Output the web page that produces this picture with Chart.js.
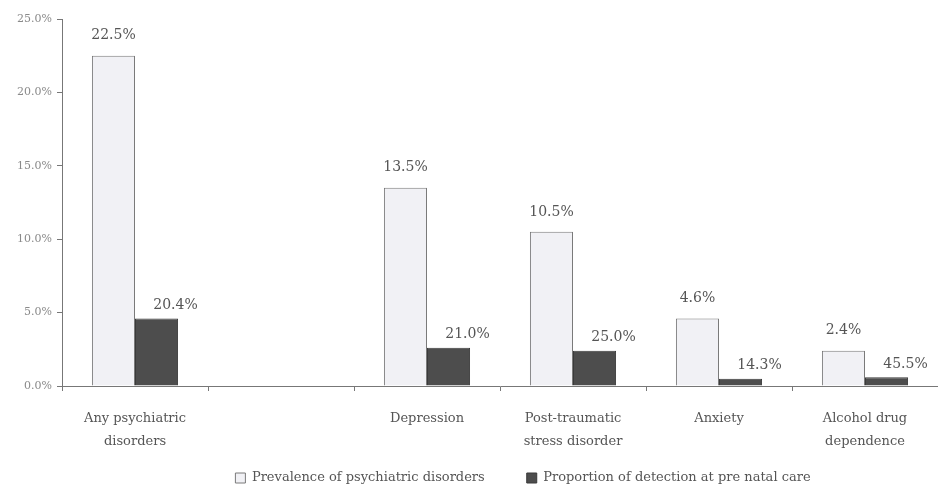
<!DOCTYPE html>
<html>
<head>
<meta charset="utf-8">
<script src="https://cdn.jsdelivr.net/npm/chart.js@4/dist/chart.umd.min.js"></script>
<style>
  html, body { margin: 0; padding: 0; background: #fff; }
  #wrap { width: 938px; height: 488px; }
</style>
</head>
<body>
<div id="wrap"><canvas id="c" width="938" height="488"></canvas></div>
<script>
// Categories (an empty slot separates the overall figure from the specific disorders)
const categories = [
  ['Any psychiatric', 'disorders'],
  '',
  'Depression',
  ['Post-traumatic', 'stress disorder'],
  'Anxiety',
  ['Alcohol drug', 'dependence']
];

// Prevalence of each disorder (% of women)
const prevalence = [22.5, null, 13.5, 10.5, 4.6, 2.4];

// Cases detected at prenatal care, as % of all women
const detected = [4.6, null, 2.6, 2.4, 0.5, 0.6];

// Proportion of cases detected at prenatal care (labels on the dark bars)
const detectionLabels = ['20.4%', null, '21.0%', '25.0%', '14.3%', '45.5%'];

// Labels on the light bars
const prevalenceLabels = ['22.5%', null, '13.5%', '10.5%', '4.6%', '2.4%'];

const yTicks = [0, 5, 10, 15, 20, 25];

const SERIF = '"DejaVu Serif", "Liberation Serif", serif';
const PLOT_BOTTOM = 386;   // y of the zero line
const LEGEND_H = 20;       // height reserved for the legend row
const LEGEND_Y = 478;      // centre line of the legend row
const LEGEND_GAP = 42;     // space between the two legend entries
const LEGEND_CENTER = 523; // horizontal centre of the legend row

// Writes the value labels above the bars
const barLabels = {
  id: 'barLabels',
  afterDatasetsDraw(chart) {
    const ctx = chart.ctx;
    ctx.save();
    ctx.font = '14px ' + SERIF;
    ctx.fillStyle = '#555';
    ctx.textAlign = 'center';
    ctx.textBaseline = 'middle';
    const sets = [
      { idx: 0, texts: prevalenceLabels, dx: 0, dy: 20 },
      { idx: 1, texts: detectionLabels, dx: 19, dy: 13 }
    ];
    sets.forEach(s => {
      const meta = chart.getDatasetMeta(s.idx);
      meta.data.forEach((el, i) => {
        const t = s.texts[i];
        if (!t) return;
        ctx.fillText(t, el.x + s.dx, el.y - s.dy);
      });
    });
    ctx.restore();
  }
};

// Keeps the legend row compact even with wide spacing between its entries,
// then places it: vertical centre at LEGEND_Y, horizontally centred on LEGEND_CENTER
const legendPlace = {
  id: 'legendPlace',
  beforeLayout(chart) {
    const lg = chart.legend;
    if (lg && !lg._compactFit) {
      const origFit = lg.fit.bind(lg);
      lg.fit = function () {
        origFit();
        this.height = LEGEND_H;
      };
      lg._compactFit = true;
    }
  },
  afterLayout(chart) {
    const lg = chart.legend;
    if (!lg || !lg.lineWidths) return;
    const pad = lg.options.labels.padding;
    const itemH = lg._itemHeight || 13;
    lg.top = LEGEND_Y - pad - itemH / 2;
    lg.bottom = chart.height;
    lg.height = lg.bottom - lg.top;
    const rowW = lg.lineWidths[0] - pad;
    const wantStart = LEGEND_CENTER - rowW / 2;
    const curStart = (lg.left + pad + lg.right - lg.lineWidths[0]) / 2;
    const d = wantStart - curStart;
    lg.left += d;
    lg.right += d;
  }
};

new Chart(document.getElementById('c'), {
  type: 'bar',
  data: {
    labels: categories,
    datasets: [
      {
        label: 'Prevalence of psychiatric disorders',
        data: prevalence,
        backgroundColor: '#f1f1f5',
        borderColor: '#7a7a7a',
        borderWidth: 1
      },
      {
        label: 'Proportion of detection at pre natal care',
        data: detected,
        backgroundColor: '#4d4d4d',
        borderColor: '#3a3a3a',
        borderWidth: 1
      }
    ]
  },
  options: {
    responsive: false,
    animation: false,
    events: [],
    devicePixelRatio: 1,
    layout: { padding: { top: 19, right: 0, left: 0, bottom: 0 } },
    datasets: {
      bar: { categoryPercentage: 0.59, barPercentage: 1.0 }
    },
    scales: {
      x: {
        offset: true,
        grid: {
          offset: true,
          drawOnChartArea: false,
          drawTicks: true,
          tickLength: 5,
          color: '#777'
        },
        border: { display: true, color: '#777', width: 1 },
        ticks: {
          color: '#555',
          font: { family: SERIF, size: 13, lineHeight: 1.75 },
          padding: 16,
          maxRotation: 0,
          autoSkip: false
        },
        afterFit(scale) {
          scale.height = 488 - PLOT_BOTTOM - LEGEND_H;
        }
      },
      y: {
        min: 0,
        max: 25,
        afterBuildTicks(scale) {
          scale.ticks = yTicks.map(v => ({ value: v }));
        },
        grid: {
          drawOnChartArea: false,
          drawTicks: true,
          tickLength: 5,
          color: '#777'
        },
        border: { display: true, color: '#777', width: 1 },
        ticks: {
          color: '#8a8a8a',
          font: { family: SERIF, size: 11 },
          padding: 5,
          callback: v => v.toFixed(1) + '%'
        },
        afterFit(scale) { scale.width = 62; }
      }
    },
    plugins: {
      legend: {
        display: true,
        position: 'bottom',
        labels: {
          color: '#555',
          font: { family: SERIF, size: 13 },
          boxWidth: 10,
          boxHeight: 10,
          padding: LEGEND_GAP
        }
      },
      tooltip: { enabled: false },
      title: { display: false }
    }
  },
  plugins: [barLabels, legendPlace]
});
</script>
</body>
</html>
